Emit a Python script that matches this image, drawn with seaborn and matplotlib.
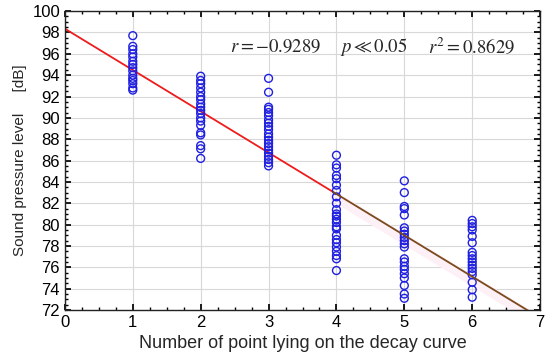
import numpy as np
import pandas as pd
import seaborn as sns
import matplotlib
matplotlib.use('Agg')
import matplotlib.pyplot as plt
from matplotlib.ticker import MultipleLocator

# values
col1 = [97.7, 96.7, 96.4, 96.0, 95.7, 95.3, 95.0, 94.7, 94.4, 94.0, 93.7, 93.5, 93.2, 92.8, 92.6]
col2 = [93.9, 93.5, 93.2, 92.8, 92.4, 92.0, 91.7, 91.3, 91.0, 90.7, 90.4, 90.0, 89.7, 89.3,
        88.6, 88.4, 87.4, 87.1, 86.2]
col3 = [93.7, 92.4, 91.0, 90.8, 90.5, 90.2, 89.8, 89.5, 89.2, 88.9, 88.5, 88.2, 87.9, 87.6,
        87.3, 87.0, 86.7, 86.4, 86.1, 85.8, 85.5]
col4 = [86.5, 85.6, 85.3, 84.6, 84.3, 83.7, 83.2, 82.6, 82.0, 81.4, 81.0, 80.8, 80.5, 80.2,
        79.8, 79.6, 79.0, 78.6, 78.3, 77.9, 77.5, 77.1, 76.8, 75.7]
col5 = [84.1, 83.0, 81.7, 81.5, 80.9, 79.7, 79.4, 79.1, 78.8, 78.5, 78.2, 77.9, 76.8, 76.5,
        76.1, 75.8, 75.4, 75.0, 74.3, 73.5, 73.1]
col6 = [80.4, 80.1, 79.8, 79.5, 78.9, 78.3, 77.4, 77.1, 76.8, 76.5, 76.2, 75.9, 75.6, 75.3,
        74.6, 73.9, 73.2]
columns = [col1, col2, col3, col4, col5, col6]

intercept = 98.35
slope = -3.87
stat_texts = [r'$r = -0.9289$', r'$p \ll 0.05$', r'$r^2 = 0.8629$']
stat_x = [2.43, 4.05, 5.35]

xs, ys = [], []
for i, c in enumerate(columns):
    xs += [i + 1] * len(c)
    ys += c
df = pd.DataFrame({'point': xs, 'spl': ys})

sns.set_theme(style='ticks')
plt.rcParams['font.family'] = ['Liberation Sans', 'DejaVu Sans']
plt.rcParams['mathtext.fontset'] = 'stix'

fig = plt.figure(figsize=(5.5, 3.58), dpi=100)
ax = fig.add_axes([0.118, 0.134, 0.864, 0.835])

# faint pink band under the fit line (as in the original rendering)
xb = np.linspace(3.9, 7, 50)
ax.fill_between(xb, intercept + slope * xb - 0.9, intercept + slope * xb + 0.2,
                color='#fef0f7', lw=0, zorder=1)

sns.scatterplot(data=df, x='point', y='spl', ax=ax, marker='o', s=32,
                facecolors='none', edgecolor='#1f1fe0', linewidth=1.0, zorder=3)

xl = np.array([0, 3.95])
ax.plot(xl, intercept + slope * xl, color='#ee1c1c', lw=1.3, zorder=2)
xr = np.array([3.95, 7])
ax.plot(xr, intercept + slope * xr, color='#7a4a1c', lw=1.3, zorder=4)

ax.set_xlim(0, 7)
ax.set_ylim(72, 100)
ax.xaxis.set_major_locator(MultipleLocator(1))
ax.xaxis.set_minor_locator(MultipleLocator(0.25))
ax.yaxis.set_major_locator(MultipleLocator(2))
ax.yaxis.set_minor_locator(MultipleLocator(0.5))
ax.tick_params(which='both', direction='in', top=True, right=True, labelsize=12, colors='#000000')
ax.tick_params(which='major', length=4)
ax.tick_params(which='minor', length=2)
ax.grid(True, which='major', color='#d8d8d8', lw=0.8)
ax.set_axisbelow(True)
for s in ax.spines.values():
    s.set_color('#222222')
    s.set_linewidth(1.0)

ax.set_xlabel('Number of point lying on the decay curve', fontsize=13)
ax.set_ylabel('Sound pressure level     [dB]', fontsize=11)

for xt, t in zip(stat_x, stat_texts):
    ax.text(xt, 96.6, t, fontsize=13.5, ha='left', va='center', zorder=5)

fig.savefig('out.png', dpi=100)
